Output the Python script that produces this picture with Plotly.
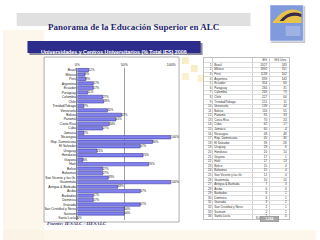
import plotly.graph_objects as go

countries = ["Brasil", "México", "Perú", "Argentina", "Ecuador", "Paraguay", "Colombia", "Chile",
             "Trinidad/Tobago", "Venezuela", "Bolivia", "Panamá", "Costa Rica", "Cuba", "Jamaica",
             "Nicaragua", "Rep. Dominicana", "El Salvador", "Uruguay", "Honduras", "Guyana", "Haití",
             "Belice", "Bahamas", "San Vicente y las Gr.", "Guatemala", "Antigua & Barbuda", "Aruba",
             "Barbados", "Dominica", "Granada", "San Cristóbal y Nevis", "Surinam", "Santa Lucía"]
pct_univ = [12, 8, 9, 17, 17, 11, 27, 28, 7, 32, 47, 41, 34, 27, 7, 100, 80, 67, 21, 70, 6, 76,
            27, 27, 33, 100, 43, 67, 17, 17, 67, 50, 50, 0]
ies_total = [2027, 1892, 1138, 839, 354, 284, 269, 227, 151, 139, 116, 81, 70, 62, 60, 48, 45, 39,
             29, 20, 17, 17, 15, 15, 12, 10, 7, 6, 6, 6, 3, 2, 2, 1]
ies_univ = [243, 151, 102, 143, 60, 31, 73, 64, 11, 44, 55, 33, 24, 17, 4, 48, 36, 26, 6, 14, 1, 13,
            4, 4, 4, 10, 3, 4, 1, 1, 2, 1, 1, 0]
tick_vals = [0, 50, 100]
tick_text = ["0%", "50%", "100%"]
header_labels = ["IES", "IES Univ."]

W, H = 320, 240
def X(px): return px / W
def Y(py): return 1 - py / H

def rect(x0, y0, x1, y1, fill, line=None, layer="below", opacity=1):
    d = dict(type="rect", xref="paper", yref="paper", x0=X(x0), x1=X(x1), y0=Y(y1), y1=Y(y0),
             fillcolor=fill, layer=layer, opacity=opacity)
    if line:
        d["line"] = line
    else:
        d["line_width"] = 0
    return d

fig = go.Figure()

# ---- bar chart
fig.add_trace(go.Bar(
    y=countries, x=pct_univ, orientation="h",
    marker=dict(color="#8080ee", line=dict(color="#2a2a90", width=0.5)),
    text=[f"{v}%" for v in pct_univ], textposition="outside",
    textfont=dict(size=3.5, color="#111111", family="Liberation Sans"),
    cliponaxis=False, showlegend=False, xaxis="x", yaxis="y",
))

# ---- table drawn on its own axes
rows = list(range(1, len(countries) + 1))
tfont = dict(size=3, color="#333333", family="Liberation Sans")
fig.add_trace(go.Scatter(x=[213] * len(rows), y=rows, text=[str(r) for r in rows], mode="text",
                         textposition="middle left", textfont=tfont, xaxis="x2", yaxis="y2", hoverinfo="skip"))
fig.add_trace(go.Scatter(x=[216] * len(rows), y=rows, text=countries, mode="text",
                         textposition="middle right", textfont=tfont, xaxis="x2", yaxis="y2", hoverinfo="skip"))
fig.add_trace(go.Scatter(x=[270] * len(rows), y=rows, text=[str(v) for v in ies_total], mode="text",
                         textposition="middle left", textfont=tfont, xaxis="x2", yaxis="y2", hoverinfo="skip"))
fig.add_trace(go.Scatter(x=[290] * len(rows), y=rows, text=[str(v) for v in ies_univ], mode="text",
                         textposition="middle left", textfont=tfont, xaxis="x2", yaxis="y2", hoverinfo="skip"))
fig.add_trace(go.Scatter(x=[270, 290], y=[0, 0], text=header_labels, mode="text",
                         textposition="middle left", textfont=tfont, xaxis="x2", yaxis="y2", hoverinfo="skip"))

shapes = [
    rect(0, 30, 42, 240, "#fbf2e2", opacity=0.7),
    rect(0, 230, 320, 240, "#fbf2e2", opacity=0.7),
    rect(183, 57, 190, 64, "#f3e3a0", opacity=0.6),
    rect(192, 65, 199, 72, "#f3e3a0", opacity=0.6),
    rect(183, 73, 190, 80, "#f3e3a0", opacity=0.5),
    rect(199, 75, 206, 82, "#f3e3a0", opacity=0.5),
    rect(14, 13, 253, 26, "#e0e0e0"),
    rect(27, 43, 204, 55, "#8a8a9a"),
    rect(25, 41, 202, 53, "#2c2c8c"),
    rect(42, 57, 180, 222, "white", line=dict(color="#9a9a9a", width=0.8)),
    rect(206, 57.5, 292, 219, "white"),
    rect(274, 6, 309, 43, "#c8c8d0"),
    rect(273, 5, 307, 41, "#7f9bdb", line=dict(color="#ffffff", width=0.5)),
    dict(type="path", xref="paper", yref="paper", fillcolor="#e8c34a", line_width=0, layer="above",
         path=f"M {X(276)} {Y(22)} Q {X(290)} {Y(4)} {X(305)} {Y(12)} L {X(305)} {Y(22)} Z"),
    dict(type="path", xref="paper", yref="paper", fillcolor="#3a2a4a", line_width=0, layer="above",
         path=f"M {X(282)} {Y(22)} Q {X(292)} {Y(9)} {X(305)} {Y(14)} L {X(305)} {Y(17)} Q {X(293)} {Y(13)} {X(286)} {Y(22)} Z"),
    rect(276, 21, 305, 23, "#e8c34a", layer="above"),
]
for yy in (27, 29, 31, 33, 35):
    shapes.append(dict(type="line", xref="paper", yref="paper", x0=X(289), x1=X(304), y0=Y(yy), y1=Y(yy),
                       line=dict(color="#e8ecf8", width=0.6)))

annotations = [
    dict(text="<b>Panorama de la Educación Superior en ALC</b>", x=X(133), y=Y(19.5), xref="paper", yref="paper",
         showarrow=False, font=dict(family="Liberation Serif", size=9, color="#25256a")),
    dict(text="<b>Universidades y Centros Universitarios (% Total IES) 2006</b>", x=X(113), y=Y(47), xref="paper", yref="paper",
         showarrow=False, font=dict(family="Liberation Sans", size=5.3, color="white")),
    dict(text="<b><i>Fuente: IESALC / IIESALC</i></b>", x=X(43), y=Y(228), xref="paper", yref="paper", xanchor="left",
         showarrow=False, font=dict(family="Liberation Serif", size=5, color="#3a3a6a")),
    dict(text=f"{sum(ies_total):,}", x=X(269), y=Y(221.5), xref="paper", yref="paper", xanchor="right",
         showarrow=False, font=tfont),
    dict(text=f"<b>{sum(ies_univ):,}</b>", x=X(282), y=Y(221.5), xref="paper", yref="paper",
         showarrow=False, bgcolor="#a8a8a8", bordercolor="#888888", borderwidth=0.5, borderpad=0.5, width=17,
         font=dict(family="Liberation Sans", size=3, color="white")),
]

fig.update_layout(
    width=W, height=H, margin=dict(l=0, r=0, t=0, b=0),
    paper_bgcolor="white", plot_bgcolor="rgba(0,0,0,0)",
    bargap=0.25, showlegend=False,
    xaxis=dict(domain=[X(76), X(172)], range=[0, 100], side="top", tickvals=tick_vals, ticktext=tick_text,
               tickfont=dict(size=3.5, color="#222222", family="Liberation Sans"),
               showgrid=True, gridcolor="#a0a0a0", gridwidth=0.5, zeroline=False, ticks="", ticklen=0,
               fixedrange=True),
    yaxis=dict(domain=[Y(220.25), Y(67.75)], autorange="reversed", showline=True, linecolor="#808080", linewidth=0.5,
               tickfont=dict(size=3.3, color="#222222", family="Liberation Sans"), ticks="", ticklen=0,
               showgrid=False, fixedrange=True),
    xaxis2=dict(domain=[X(206), X(292)], range=[206, 292], anchor="y2", tickvals=[214, 255, 272],
                showticklabels=False, showgrid=True, gridcolor="#d0d0d0", gridwidth=0.5, zeroline=False,
                showline=True, mirror=True, linecolor="#c0c0c0", linewidth=0.5, ticks="", fixedrange=True),
    yaxis2=dict(domain=[Y(218.75), Y(58.25)], range=[34.5, -0.5], anchor="x2",
                tickvals=[i + 0.5 for i in range(0, 34)], showticklabels=False, showgrid=True,
                gridcolor="#dcdcdc", gridwidth=0.5, zeroline=False, showline=True, mirror=True,
                linecolor="#c0c0c0", linewidth=0.5, ticks="", fixedrange=True),
    shapes=shapes, annotations=annotations,
)

fig.write_html("out.html")
